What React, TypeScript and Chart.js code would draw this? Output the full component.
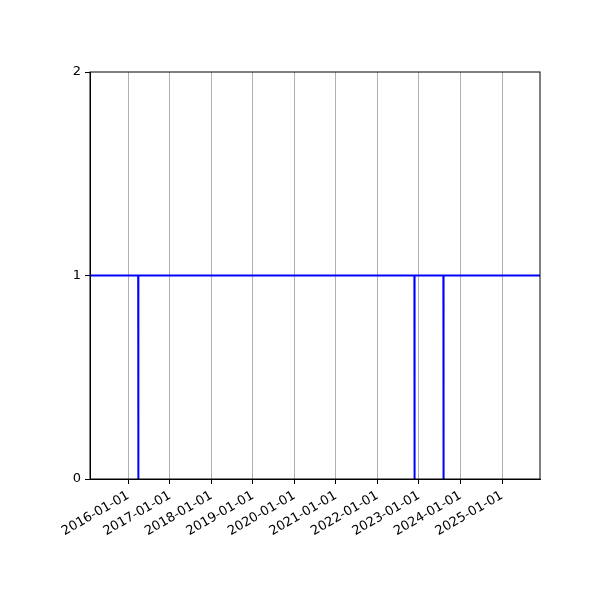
import React, { useEffect, useRef } from "react";
import { Chart, registerables } from "chart.js";
Chart.register(...registerables);

// dates of the points on the line and the value at each one
const pointDates = [
	"2015-01-29",
	"2016-03-28",
	"2016-03-29",
	"2016-03-30",
	"2022-11-22",
	"2022-11-23",
	"2022-11-24",
	"2023-08-04",
	"2023-08-05",
	"2023-08-06",
	"2025-12-01",
];
const pointValues = [1, 1, 0, 1, 1, 0, 1, 1, 0, 1, 1];

const xStart = "2015-01-29";
const xEnd = "2025-12-01";

const xTickLabels = [
	"2016-01-01",
	"2017-01-01",
	"2018-01-01",
	"2019-01-01",
	"2020-01-01",
	"2021-01-01",
	"2022-01-01",
	"2023-01-01",
	"2024-01-01",
	"2025-01-01",
];
const yTicks = [0, 1, 2];

const toMs = (d: string) => Date.parse(d + "T00:00:00Z");

const frame = {
	id: "frame",
	afterDraw(chart: Chart) {
		const { ctx, chartArea } = chart;
		ctx.save();
		ctx.strokeStyle = "#000";
		ctx.lineWidth = 1;
		ctx.strokeRect(chartArea.left, chartArea.top, chartArea.right - chartArea.left, chartArea.bottom - chartArea.top);
		ctx.restore();
	},
};

const App: React.FC = () => {
	const canvasRef = useRef<HTMLCanvasElement | null>(null);

	useEffect(() => {
		document.body.style.margin = "0";
		const ctx = canvasRef.current?.getContext("2d");
		if (!ctx) return;

		const font = { family: "DejaVu Sans", size: 13 };

		const chart = new Chart(ctx, {
			type: "line",
			data: {
				datasets: [
					{
						data: pointDates.map((d, i) => ({ x: toMs(d), y: pointValues[i] })),
						borderColor: "#0000ff",
						borderWidth: 2,
						pointRadius: 0,
						fill: false,
						tension: 0,
					},
				],
			},
			options: {
				animation: false,
				responsive: false,
				devicePixelRatio: 1,
				layout: { padding: { left: 0, top: 72, right: 60, bottom: 0 } },
				plugins: { legend: { display: false }, tooltip: { enabled: false } },
				scales: {
					x: {
						type: "linear",
						min: toMs(xStart),
						max: toMs(xEnd),
						afterBuildTicks: (axis: any) => {
							axis.ticks = xTickLabels.map((t) => ({ value: toMs(t) }));
						},
						afterFit: (axis: any) => {
							axis.height = 121;
						},
						ticks: {
							autoSkip: false,
							minRotation: 30,
							maxRotation: 30,
							padding: 4,
							color: "#000",
							font,
							callback: (v: any) => new Date(Number(v)).toISOString().slice(0, 10),
						},
						grid: { color: "#b0b0b0", lineWidth: 1, tickColor: "#000", tickLength: 5 },
						border: { color: "#000", width: 1 },
					},
					y: {
						min: 0,
						max: 2,
						afterBuildTicks: (axis: any) => {
							axis.ticks = yTicks.map((v) => ({ value: v }));
						},
						afterFit: (axis: any) => {
							axis.width = 90;
						},
						ticks: { color: "#000", font, padding: 4 },
						grid: { drawOnChartArea: false, tickColor: "#000", tickLength: 5 },
						border: { color: "#000", width: 1 },
					},
				},
			},
			plugins: [frame],
		});

		return () => {
			chart.destroy();
		};
	}, []);

	return (
		<div style={{ width: 600, height: 600, background: "#fff" }}>
			<canvas ref={canvasRef} width={600} height={600} />
		</div>
	);
};

export default App;
